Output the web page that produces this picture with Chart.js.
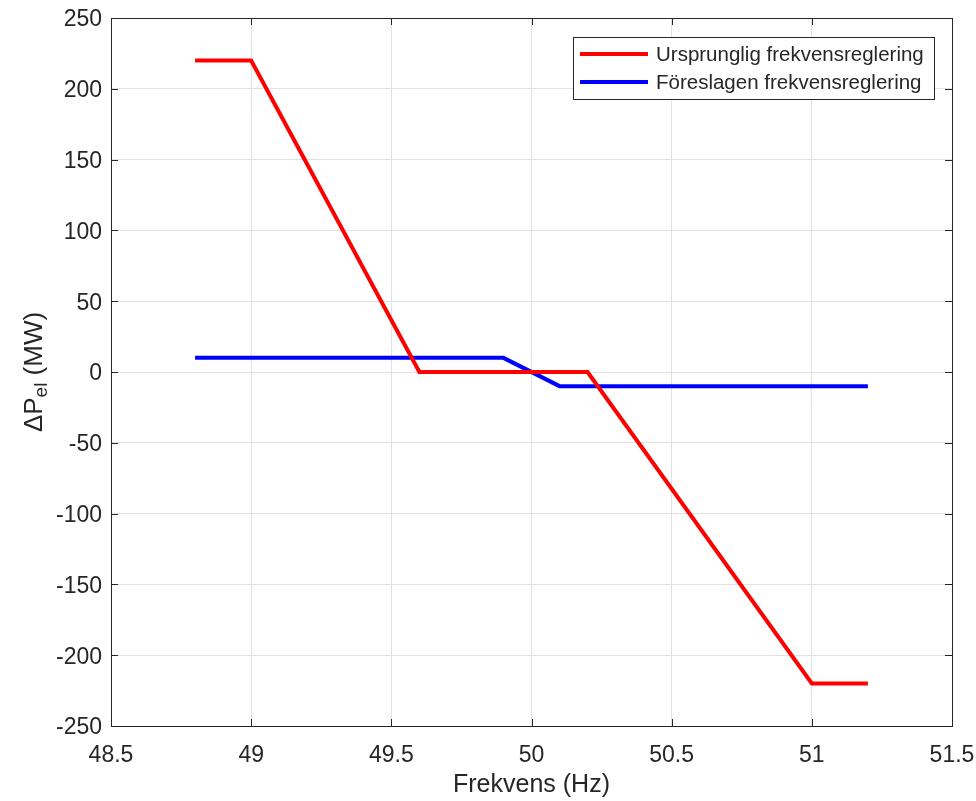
<!DOCTYPE html>
<html>
<head>
<meta charset="utf-8">
<script src="https://cdn.jsdelivr.net/npm/chart.js@4"></script>
<style>
  html, body { margin: 0; padding: 0; background: #fff; }
  #wrap { width: 976px; height: 801px; }
</style>
</head>
<body>
<div id="wrap"><canvas id="freqChart" width="976" height="801"></canvas></div>
<script>
// Data
const freqOriginal = [48.8, 49.0, 49.6, 50.2, 51.0, 51.2];
const powerOriginal = [220, 220, 0, 0, -220, -220];
const freqProposed = [48.8, 49.9, 50.1, 51.2];
const powerProposed = [10, 10, -10, -10];
const seriesLabels = ['Ursprunglig frekvensreglering', 'Föreslagen frekvensreglering'];
const xTicks = [48.5, 49, 49.5, 50, 50.5, 51, 51.5];
const yTicks = [-250, -200, -150, -100, -50, 0, 50, 100, 150, 200, 250];

const textColor = '#262626';
const fontFamily = '"Liberation Sans", Arial, Helvetica, sans-serif';

function toPoints(xs, ys) {
    return xs.map((x, i) => ({ x: x, y: ys[i] }));
}

// Box, inward ticks, axis labels and legend, MATLAB-style
const matlabAxes = {
    id: 'matlabAxes',
    afterDraw(chart) {
        const ctx = chart.ctx;
        const area = chart.chartArea;
        const xs = chart.scales.x;
        const ys = chart.scales.y;
        const tickLen = 7;

        ctx.save();
        ctx.strokeStyle = textColor;
        ctx.lineWidth = 1;
        ctx.strokeRect(Math.round(area.left) + 0.5, Math.round(area.top) + 0.5,
            Math.round(area.right - area.left), Math.round(area.bottom - area.top));

        ctx.beginPath();
        xTicks.forEach(v => {
            const px = Math.round(xs.getPixelForValue(v)) + 0.5;
            ctx.moveTo(px, area.bottom);
            ctx.lineTo(px, area.bottom - tickLen);
            ctx.moveTo(px, area.top);
            ctx.lineTo(px, area.top + tickLen);
        });
        yTicks.forEach(v => {
            const py = Math.round(ys.getPixelForValue(v)) + 0.5;
            ctx.moveTo(area.left, py);
            ctx.lineTo(area.left + tickLen, py);
            ctx.moveTo(area.right, py);
            ctx.lineTo(area.right - tickLen, py);
        });
        ctx.stroke();

        // x axis title
        ctx.fillStyle = textColor;
        ctx.font = '25px ' + fontFamily;
        ctx.textAlign = 'center';
        ctx.textBaseline = 'alphabetic';
        ctx.fillText('Frekvens (Hz)', (area.left + area.right) / 2, 792);

        // y axis title with subscript
        ctx.translate(35, (area.top + area.bottom) / 2);
        ctx.rotate(-Math.PI / 2);
        ctx.textAlign = 'left';
        const mainFont = '26px ' + fontFamily;
        const subFont = '19px ' + fontFamily;
        ctx.font = mainFont;
        const w1 = ctx.measureText('\u0394P').width;
        const w3 = ctx.measureText(' (MW)').width;
        ctx.font = subFont;
        const w2 = ctx.measureText('el').width;
        const x0 = -(w1 + w2 + w3) / 2;
        ctx.font = mainFont;
        ctx.fillText('\u0394P', x0, 7);
        ctx.font = subFont;
        ctx.fillText('el', x0 + w1, 12);
        ctx.font = mainFont;
        ctx.fillText(' (MW)', x0 + w1 + w2, 7);
        ctx.restore();

        // legend
        ctx.save();
        const lx = 573, ly = 37, lw = 361, lh = 62;
        ctx.fillStyle = '#fff';
        ctx.fillRect(lx, ly, lw, lh);
        ctx.strokeStyle = textColor;
        ctx.lineWidth = 1;
        ctx.strokeRect(lx + 0.5, ly + 0.5, lw, lh);
        ctx.font = '20.5px ' + fontFamily;
        ctx.textBaseline = 'middle';
        ctx.textAlign = 'left';
        chart.data.datasets.forEach((ds, i) => {
            const cy = ly + 17 + i * 28;
            ctx.strokeStyle = ds.borderColor;
            ctx.lineWidth = 4;
            ctx.beginPath();
            ctx.moveTo(580, cy);
            ctx.lineTo(648, cy);
            ctx.stroke();
            ctx.fillStyle = textColor;
            ctx.fillText(ds.label, 656, cy + 1);
        });
        ctx.restore();
    }
};

function renderFreqChart() {
    const el = document.getElementById('freqChart');

    new Chart(el, {
        type: 'line',
        data: {
            datasets: [{
                label: seriesLabels[0],
                data: toPoints(freqOriginal, powerOriginal),
                borderColor: '#ff0000',
                borderWidth: 4,
                pointRadius: 0,
                tension: 0,
                fill: false
            }, {
                label: seriesLabels[1],
                data: toPoints(freqProposed, powerProposed),
                borderColor: '#0000ff',
                borderWidth: 4,
                pointRadius: 0,
                tension: 0,
                fill: false
            }]
        },
        options: {
            responsive: false,
            animation: false,
            layout: { padding: { top: 18, right: 24, left: 0, bottom: 0 } },
            scales: {
                x: {
                    type: 'linear',
                    min: 48.5,
                    max: 51.5,
                    afterBuildTicks: scale => { scale.ticks = xTicks.map(v => ({ value: v })); },
                    afterFit: scale => {
                        scale.height = 75;
                        scale.paddingLeft = 0;
                        scale.paddingRight = 0;
                    },
                    grid: { color: '#e2e2e2', drawTicks: false },
                    border: { display: false },
                    ticks: {
                        color: textColor,
                        padding: 16,
                        maxRotation: 0,
                        font: { size: 23, family: fontFamily },
                        callback: v => String(v)
                    }
                },
                y: {
                    min: -250,
                    max: 250,
                    afterBuildTicks: scale => { scale.ticks = yTicks.map(v => ({ value: v })); },
                    afterFit: scale => {
                        scale.width = 111;
                        scale.paddingTop = 0;
                        scale.paddingBottom = 0;
                    },
                    grid: { color: '#e2e2e2', drawTicks: false },
                    border: { display: false },
                    ticks: {
                        color: textColor,
                        padding: 9,
                        labelOffset: 2,
                        font: { size: 23, family: fontFamily },
                        callback: v => String(v)
                    }
                }
            },
            plugins: {
                legend: { display: false },
                tooltip: { enabled: false }
            }
        },
        plugins: [matlabAxes]
    });
}

renderFreqChart();
</script>
</body>
</html>
